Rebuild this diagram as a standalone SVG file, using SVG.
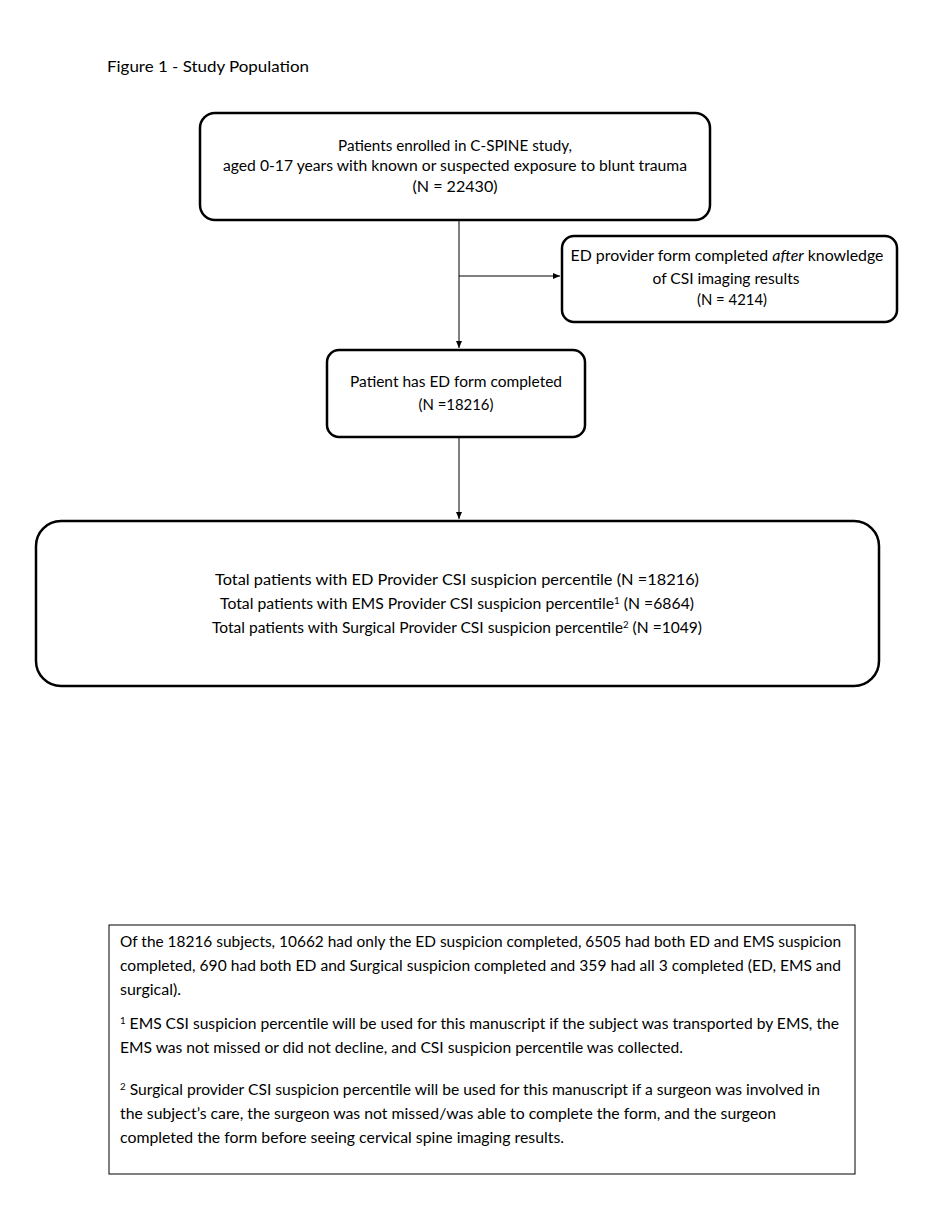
<svg xmlns="http://www.w3.org/2000/svg" width="936" height="1220" viewBox="0 0 936 1220">
<style>
text{font-family:"Lato","Open Sans","Liberation Sans",sans-serif;font-size:14.5px;fill:#000}
.c{text-anchor:middle}
.box{fill:#fff;stroke:#000;stroke-width:2.5}
.line{stroke:#000;stroke-width:1;fill:none}
.sup{font-size:9px}
</style>
<defs>
<marker id="ah" markerWidth="8" markerHeight="8" refX="7" refY="4" orient="auto" markerUnits="userSpaceOnUse">
<path d="M0,1 L7,4 L0,7 Z" fill="#000"/>
</marker>
</defs>
<rect width="936" height="1220" fill="#fff"/>
<text x="107" y="72" style="font-size:16px" textLength="202" lengthAdjust="spacingAndGlyphs">Figure 1 - Study Population</text>
<g id="connectors">
<line class="line" x1="459" y1="220" x2="459" y2="348" marker-end="url(#ah)"/>
<line class="line" x1="459" y1="276" x2="560" y2="276" marker-end="url(#ah)"/>
<line class="line" x1="459" y1="437" x2="459" y2="519" marker-end="url(#ah)"/>
</g>
<g id="n1">
<rect class="box" x="200" y="113" width="510" height="107" rx="15"/>
<text class="c" x="455" y="151" textLength="234" lengthAdjust="spacingAndGlyphs">Patients enrolled in C-SPINE study,</text>
<text class="c" x="455" y="171" textLength="464" lengthAdjust="spacingAndGlyphs">aged 0-17 years with known or suspected exposure to blunt trauma</text>
<text class="c" x="455" y="192" textLength="85" lengthAdjust="spacingAndGlyphs">(N = 22430)</text>
</g>
<g id="n2">
<rect class="box" x="562" y="236" width="335" height="86" rx="12"/>
<text class="c" x="727" y="261" textLength="313" lengthAdjust="spacingAndGlyphs">ED provider form completed <tspan font-style="italic">after</tspan> knowledge</text>
<text class="c" x="726" y="284" textLength="147" lengthAdjust="spacingAndGlyphs">of CSI imaging results</text>
<text class="c" x="732" y="305" textLength="70" lengthAdjust="spacingAndGlyphs">(N = 4214)</text>
</g>
<g id="n3">
<rect class="box" x="327" y="350" width="258" height="87" rx="12"/>
<text class="c" x="456" y="387" textLength="212" lengthAdjust="spacingAndGlyphs">Patient has ED form completed</text>
<text class="c" x="456" y="410" textLength="75" lengthAdjust="spacingAndGlyphs">(N =18216)</text>
</g>
<g id="n4">
<rect class="box" x="36" y="521" width="843" height="165" rx="25"/>
<text class="c" x="457" y="585" textLength="484" lengthAdjust="spacingAndGlyphs">Total patients with ED Provider CSI suspicion percentile (N =18216)</text>
<text class="c" x="457" y="609" textLength="474" lengthAdjust="spacingAndGlyphs">Total patients with EMS Provider CSI suspicion percentile<tspan dy="-5" class="sup">1</tspan><tspan dy="5"> (N =6864)</tspan></text>
<text class="c" x="457" y="633" textLength="490" lengthAdjust="spacingAndGlyphs">Total patients with Surgical Provider CSI suspicion percentile<tspan dy="-5" class="sup">2</tspan><tspan dy="5"> (N =1049)</tspan></text>
</g>
<g id="notes">
<rect x="109" y="925" width="746" height="249" fill="#fff" stroke="#000" stroke-width="1"/>
<text x="120" y="947" textLength="721" lengthAdjust="spacingAndGlyphs">Of the 18216 subjects, 10662 had only the ED suspicion completed, 6505 had both ED and EMS suspicion</text>
<text x="120" y="971" textLength="721" lengthAdjust="spacingAndGlyphs">completed, 690 had both ED and Surgical suspicion completed and 359 had all 3 completed (ED, EMS and</text>
<text x="120" y="995" textLength="61" lengthAdjust="spacingAndGlyphs">surgical).</text>
<text x="120" y="1029" textLength="719" lengthAdjust="spacingAndGlyphs"><tspan dy="-5" class="sup">1</tspan><tspan dy="5"> EMS CSI suspicion percentile will be used for this manuscript if the subject was transported by EMS, the</tspan></text>
<text x="120" y="1053" textLength="563" lengthAdjust="spacingAndGlyphs">EMS was not missed or did not decline, and CSI suspicion percentile was collected.</text>
<text x="120" y="1095" textLength="700" lengthAdjust="spacingAndGlyphs"><tspan dy="-5" class="sup">2</tspan><tspan dy="5"> Surgical provider CSI suspicion percentile will be used for this manuscript if a surgeon was involved in</tspan></text>
<text x="120" y="1119" textLength="656" lengthAdjust="spacingAndGlyphs">the subject’s care, the surgeon was not missed/was able to complete the form, and the surgeon</text>
<text x="120" y="1143" textLength="444" lengthAdjust="spacingAndGlyphs">completed the form before seeing cervical spine imaging results.</text>
</g>
</svg>
